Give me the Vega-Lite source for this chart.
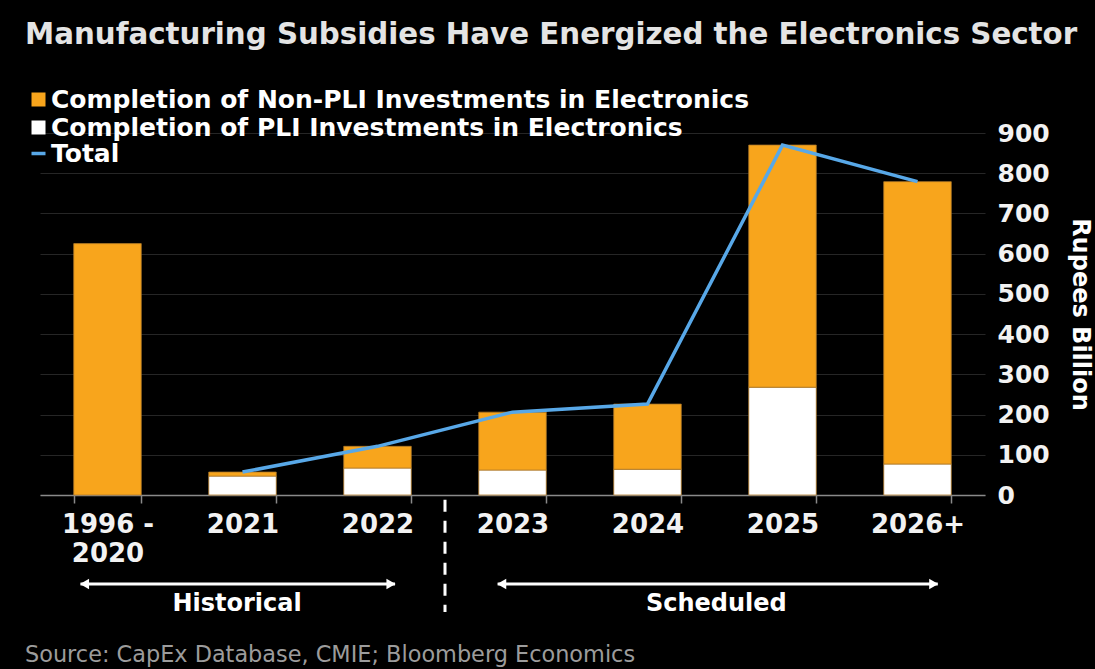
{
  "$schema": "https://vega.github.io/schema/vega-lite/v6.json",
  "width": 945,
  "height": 362,
  "autosize": "none",
  "padding": {"left": 40, "top": 133, "right": 110, "bottom": 174},
  "background": "#000000",
  "config": {"view": {"stroke": null}, "font": "DejaVu Sans"},
  "title": {
    "text": "Manufacturing Subsidies Have Energized the Electronics Sector",
    "anchor": "start",
    "frame": "group",
    "font": "DejaVu Sans",
    "fontSize": 29.3,
    "fontWeight": "bold",
    "color": "#e4e4e4",
    "dx": -15,
    "offset": 37
  },
  "data": {
    "values": [
      {"period": "1996 - 2020", "series": "Completion of Non-PLI Investments in Electronics", "value": 625},
      {"period": "2021", "series": "Completion of PLI Investments in Electronics", "value": 47},
      {"period": "2021", "series": "Completion of Non-PLI Investments in Electronics", "value": 10},
      {"period": "2021", "series": "Total", "value": 57},
      {"period": "2022", "series": "Completion of PLI Investments in Electronics", "value": 67},
      {"period": "2022", "series": "Completion of Non-PLI Investments in Electronics", "value": 54},
      {"period": "2022", "series": "Total", "value": 121},
      {"period": "2023", "series": "Completion of PLI Investments in Electronics", "value": 62},
      {"period": "2023", "series": "Completion of Non-PLI Investments in Electronics", "value": 144},
      {"period": "2023", "series": "Total", "value": 206},
      {"period": "2024", "series": "Completion of PLI Investments in Electronics", "value": 64},
      {"period": "2024", "series": "Completion of Non-PLI Investments in Electronics", "value": 162},
      {"period": "2024", "series": "Total", "value": 226},
      {"period": "2025", "series": "Completion of PLI Investments in Electronics", "value": 268},
      {"period": "2025", "series": "Completion of Non-PLI Investments in Electronics", "value": 602},
      {"period": "2025", "series": "Total", "value": 870},
      {"period": "2026+", "series": "Completion of PLI Investments in Electronics", "value": 77},
      {"period": "2026+", "series": "Completion of Non-PLI Investments in Electronics", "value": 702},
      {"period": "2026+", "series": "Total", "value": 779}
    ]
  },
  "layer": [
    {
      "layer": [
        {
          "transform": [{"filter": "datum.series !== 'Total'"}],
          "mark": {"type": "bar", "stroke": "#b07a28", "strokeWidth": 0.8},
          "encoding": {
            "x": {
              "field": "period",
              "type": "nominal",
              "sort": null,
              "scale": {"paddingInner": 0.5, "paddingOuter": 0.25},
              "axis": {
                "title": null,
                "labelAngle": 0,
                "labelFont": "DejaVu Sans",
                "labelFontSize": 26,
                "labelFontWeight": "bold",
                "labelColor": "#f2f2f2",
                "labelPadding": 8,
                "labelLineHeight": 29,
                "labelExpr": "datum.value === '1996 - 2020' ? ['1996 -', '2020'] : datum.value",
                "domain": true,
                "domainColor": "#8a8a8a",
                "domainWidth": 1.5,
                "ticks": true,
                "tickBand": "extent",
                "tickColor": "#8a8a8a",
                "tickSize": 8,
                "tickWidth": 1.5,
                "grid": false
              }
            },
            "y": {
              "field": "value",
              "type": "quantitative",
              "stack": "zero",
              "scale": {"domain": [0, 900], "nice": false},
              "axis": {
                "orient": "right",
                "values": [0, 100, 200, 300, 400, 500, 600, 700, 800, 900],
                "grid": true,
                "gridColor": "#262626",
                "gridWidth": 1,
                "domain": false,
                "ticks": false,
                "labelFont": "DejaVu Sans",
                "labelFontSize": 25,
                "labelFontWeight": "bold",
                "labelColor": "#f2f2f2",
                "labelPadding": 12,
                "labelAlign": "left",
                "title": "Rupees Billion",
                "titleAngle": 90,
                "titleFont": "DejaVu Sans",
                "titleFontSize": 24,
                "titleFontWeight": "bold",
                "titleColor": "#ffffff",
                "titlePadding": 18
              }
            },
            "color": {
              "field": "series",
              "type": "nominal",
              "scale": {
                "domain": ["Completion of Non-PLI Investments in Electronics", "Completion of PLI Investments in Electronics"],
                "range": ["#f8a51c", "#ffffff"]
              },
              "legend": {
                "orient": "none",
                "legendX": -14,
                "legendY": -46,
                "title": null,
                "padding": 0,
                "symbolType": "square",
                "labelFont": "DejaVu Sans",
                "labelFontSize": 25,
                "labelFontWeight": "bold",
                "labelColor": "#ffffff",
                "labelOffset": 0,
                "labelLimit": 1000,
                "rowPadding": 2,
                "symbolSize": 196,
                "symbolStrokeWidth": 0,
                "symbolOpacity": 1
              }
            },
            "order": {"field": "series", "sort": "descending"}
          }
        },
        {
          "transform": [{"filter": "datum.series === 'Total'"}],
          "mark": {"type": "line", "strokeWidth": 3.5},
          "encoding": {
            "x": {"field": "period", "type": "nominal", "sort": null},
            "y": {"field": "value", "type": "quantitative", "scale": {"domain": [0, 900], "nice": false}},
            "stroke": {
              "field": "series",
              "type": "nominal",
              "scale": {"domain": ["Total"], "range": ["#58a8e8"]},
              "legend": {
                "orient": "none",
                "legendX": -14,
                "legendY": 8,
                "title": null,
                "padding": 0,
                "symbolType": "stroke",
                "symbolStrokeWidth": 3.5,
                "symbolSize": 196,
                "labelFont": "DejaVu Sans",
                "labelFontSize": 25,
                "labelFontWeight": "bold",
                "labelColor": "#ffffff",
                "labelOffset": 0,
                "labelLimit": 1000
              }
            }
          }
        }
      ]
    },
    {
      "data": {"values": [{}]},
      "layer": [
        {
          "mark": {"type": "rule", "color": "#ffffff", "strokeWidth": 3, "strokeDash": [12, 9]},
          "encoding": {
            "x": {"datum": 3, "type": "quantitative", "scale": {"domain": [0, 7], "nice": false, "zero": false}, "axis": null},
            "y": {"datum": -12, "type": "quantitative", "scale": {"domain": [0, 900], "nice": false}},
            "y2": {"datum": -291}
          }
        },
        {
          "mark": {"type": "rule", "color": "#ffffff", "strokeWidth": 3},
          "encoding": {
            "x": {"datum": 0.3, "type": "quantitative", "scale": {"domain": [0, 7], "nice": false, "zero": false}, "axis": null},
            "x2": {"datum": 2.63},
            "y": {"datum": -221, "type": "quantitative", "scale": {"domain": [0, 900], "nice": false}}
          }
        },
        {
          "mark": {"type": "rule", "color": "#ffffff", "strokeWidth": 3},
          "encoding": {
            "x": {"datum": 3.39, "type": "quantitative", "scale": {"domain": [0, 7], "nice": false, "zero": false}, "axis": null},
            "x2": {"datum": 6.65},
            "y": {"datum": -221, "type": "quantitative", "scale": {"domain": [0, 900], "nice": false}}
          }
        },
        {
          "mark": {"type": "point", "shape": "triangle-left", "filled": true, "color": "#ffffff", "opacity": 1, "size": 110},
          "encoding": {
            "x": {"datum": 0.33, "type": "quantitative", "scale": {"domain": [0, 7], "nice": false, "zero": false}, "axis": null},
            "y": {"datum": -221, "type": "quantitative", "scale": {"domain": [0, 900], "nice": false}}
          }
        },
        {
          "mark": {"type": "point", "shape": "triangle-right", "filled": true, "color": "#ffffff", "opacity": 1, "size": 110},
          "encoding": {
            "x": {"datum": 2.6, "type": "quantitative", "scale": {"domain": [0, 7], "nice": false, "zero": false}, "axis": null},
            "y": {"datum": -221, "type": "quantitative", "scale": {"domain": [0, 900], "nice": false}}
          }
        },
        {
          "mark": {"type": "point", "shape": "triangle-left", "filled": true, "color": "#ffffff", "opacity": 1, "size": 110},
          "encoding": {
            "x": {"datum": 3.42, "type": "quantitative", "scale": {"domain": [0, 7], "nice": false, "zero": false}, "axis": null},
            "y": {"datum": -221, "type": "quantitative", "scale": {"domain": [0, 900], "nice": false}}
          }
        },
        {
          "mark": {"type": "point", "shape": "triangle-right", "filled": true, "color": "#ffffff", "opacity": 1, "size": 110},
          "encoding": {
            "x": {"datum": 6.62, "type": "quantitative", "scale": {"domain": [0, 7], "nice": false, "zero": false}, "axis": null},
            "y": {"datum": -221, "type": "quantitative", "scale": {"domain": [0, 900], "nice": false}}
          }
        },
        {
          "mark": {"type": "text", "text": "Historical", "font": "DejaVu Sans", "fontSize": 24, "fontWeight": "bold", "color": "#ffffff", "align": "center", "baseline": "middle"},
          "encoding": {
            "x": {"datum": 1.46, "type": "quantitative", "scale": {"domain": [0, 7], "nice": false, "zero": false}, "axis": null},
            "y": {"datum": -271, "type": "quantitative", "scale": {"domain": [0, 900], "nice": false}}
          }
        },
        {
          "mark": {"type": "text", "text": "Scheduled", "font": "DejaVu Sans", "fontSize": 24, "fontWeight": "bold", "color": "#ffffff", "align": "center", "baseline": "middle"},
          "encoding": {
            "x": {"datum": 5.01, "type": "quantitative", "scale": {"domain": [0, 7], "nice": false, "zero": false}, "axis": null},
            "y": {"datum": -271, "type": "quantitative", "scale": {"domain": [0, 900], "nice": false}}
          }
        },
        {
          "mark": {"type": "text", "text": "Source: CapEx Database, CMIE; Bloomberg Economics", "font": "DejaVu Sans", "fontSize": 22.4, "color": "#9c9c9c", "align": "left", "baseline": "middle"},
          "encoding": {
            "x": {"datum": -0.111, "type": "quantitative", "scale": {"domain": [0, 7], "nice": false, "zero": false}, "axis": null},
            "y": {"datum": -398, "type": "quantitative", "scale": {"domain": [0, 900], "nice": false}}
          }
        }
      ]
    }
  ],
  "resolve": {"scale": {"x": "independent"}}
}
